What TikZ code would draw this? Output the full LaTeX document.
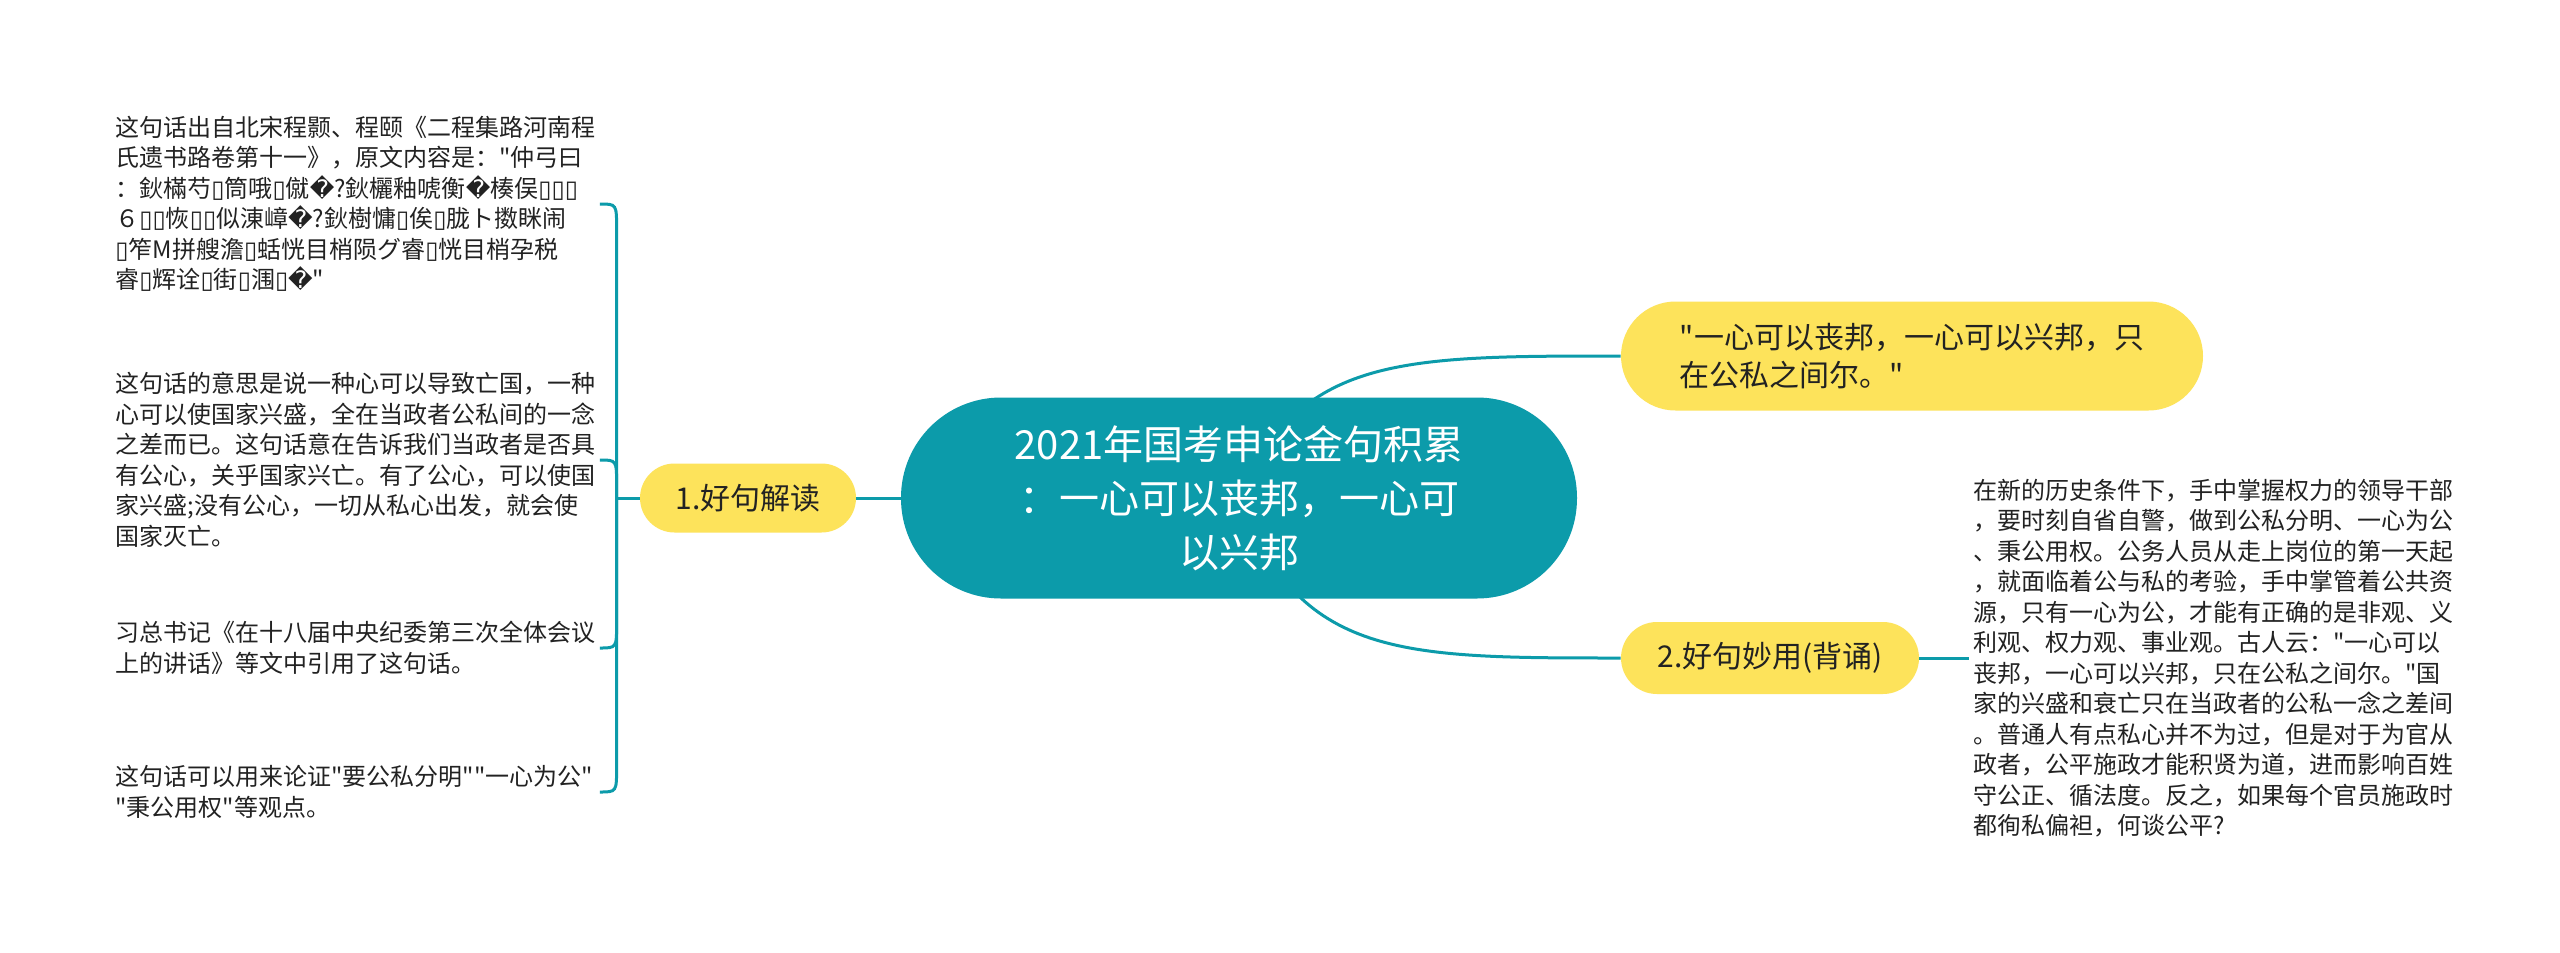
\documentclass[tikz,border=0pt]{standalone}
\usepackage{fontspec}
\setmainfont{Noto Sans CJK SC}[Ligatures=TeXOff]
\newfontfamily\dvfont{DejaVu Sans}
\usetikzlibrary{calc,backgrounds}
\definecolor{tealc}{HTML}{0C9BAA}
\definecolor{yelc}{HTML}{FDE35B}
\definecolor{txtc}{HTML}{222222}
\newcommand\tofu{{\dvfont\symbol{"25AF}}}
\newcommand\repl{{\dvfont\symbol{"FFFD}}}
\tikzset{
  conn/.style={draw=tealc, line width=1.5pt},
  hub/.style={fill=tealc, text=white, rounded corners=50pt, minimum width=338pt, minimum height=100.5pt, inner sep=0pt, align=center, font=\fontsize{20}{27}\selectfont},
  topic/.style={fill=yelc, text=txtc, inner sep=0pt, align=left, font=\fontsize{15}{19}\selectfont},
  leaf/.style={text=txtc, inner sep=0pt, align=left, font=\fontsize{12}{15.25}\selectfont},
}
\begin{document}
\begin{tikzpicture}[x=0.5pt,y=-0.5pt]
\useasboundingbox (0,0) rectangle (2560,953);
\node[hub] (c) at (1239,498) {2021年国考申论金句积累\\：一心可以丧邦，一心可\\以兴邦};
\node[topic, minimum width=108pt, minimum height=34.5pt, rounded corners=17.25pt] (n1) at (748,498) {1.好句解读};
\node[topic, minimum width=291pt, minimum height=54.5pt, rounded corners=27.25pt] (q) at (1912,356) {"一心可以丧邦，一心可以兴邦，只\\在公私之间尔。"};
\node[topic, minimum width=149pt, minimum height=36pt, rounded corners=18pt] (n2) at (1770,658) {2.好句妙用(背诵)};
\coordinate (j) at ($(n1.west)+(-23,0)$);
\node[leaf, anchor=west, text width=242pt] (b1) at (115,204) {这句话出自北宋程颢、程颐《二程集路河南程\\氏遗书路卷第十一》，原文内容是："仲弓曰\\：鈥樠芍\tofu 筒哦\tofu 僦\repl?鈥欐釉唬衡\repl 楱俣\tofu\tofu\tofu\\６\tofu\tofu 恢\tofu\tofu 似涷嶂\repl?鈥樹慵\tofu 俟\tofu 胧ト擞眯闹\\\tofu 笮M拼艘澹\tofu 蛞恍目梢陨グ睿\tofu 恍目梢孕税\\睿\tofu 辉诠\tofu 街\tofu 涠\tofu\repl"};
\node[leaf, anchor=west, text width=242pt] (b2) at (115,460) {这句话的意思是说一种心可以导致亡国，一种\\心可以使国家兴盛，全在当政者公私间的一念\\之差而已。这句话意在告诉我们当政者是否具\\有公心，关乎国家兴亡。有了公心，可以使国\\家兴盛;没有公心，一切从私心出发，就会使\\国家灭亡。};
\node[leaf, anchor=west, text width=242pt] (b3) at (115,648) {习总书记《在十八届中央纪委第三次全体会议\\上的讲话》等文中引用了这句话。};
\node[leaf, anchor=west, text width=242pt] (b4) at (115,792) {这句话可以用来论证"要公私分明""一心为公"\\"秉公用权"等观点。};
\node[leaf, anchor=west, inner xsep=2pt] (r) at (1969,658) {在新的历史条件下，手中掌握权力的领导干部\\，要时刻自省自警，做到公私分明、一心为公\\、秉公用权。公务人员从走上岗位的第一天起\\，就面临着公与私的考验，手中掌管着公共资\\源，只有一心为公，才能有正确的是非观、义\\利观、权力观、事业观。古人云："一心可以\\丧邦，一心可以兴邦，只在公私之间尔。"国\\家的兴盛和衰亡只在当政者的公私一念之差间\\。普通人有点私心并不为过，但是对于为官从\\政者，公平施政才能积贤为道，进而影响百姓\\守公正、循法度。反之，如果每个官员施政时\\都徇私偏袒，何谈公平?};
\begin{scope}[on background layer]
\fill[white] (0,0) rectangle (2560,953);
\draw[conn] (c.center) .. controls ($(c.center |- q.west)+(61,0)$) and ($(c.center |- q.west)+(161,0)$) .. (q.west);
\draw[conn] (c.center) .. controls ($(c.center |- n2.west)+(61,0)$) and ($(c.center |- n2.west)+(161,0)$) .. (n2.west);
\draw[conn] (c.west) -- (n1.east);
\draw[conn] (n1.west) -- (j);
\draw[conn] (j) -- ($(j |- b1.east)+(0,25)$) .. controls (j |- b1.east) .. (b1.east);
\draw[conn] (j) -- ($(j |- b2.east)+(0,25)$) .. controls (j |- b2.east) .. (b2.east);
\draw[conn] (j) -- ($(j |- b3.east)+(0,-25)$) .. controls (j |- b3.east) .. (b3.east);
\draw[conn] (j) -- ($(j |- b4.east)+(0,-25)$) .. controls (j |- b4.east) .. (b4.east);
\draw[conn] (n2.east) -- (r.west);
\end{scope}
\end{tikzpicture}
\end{document}
